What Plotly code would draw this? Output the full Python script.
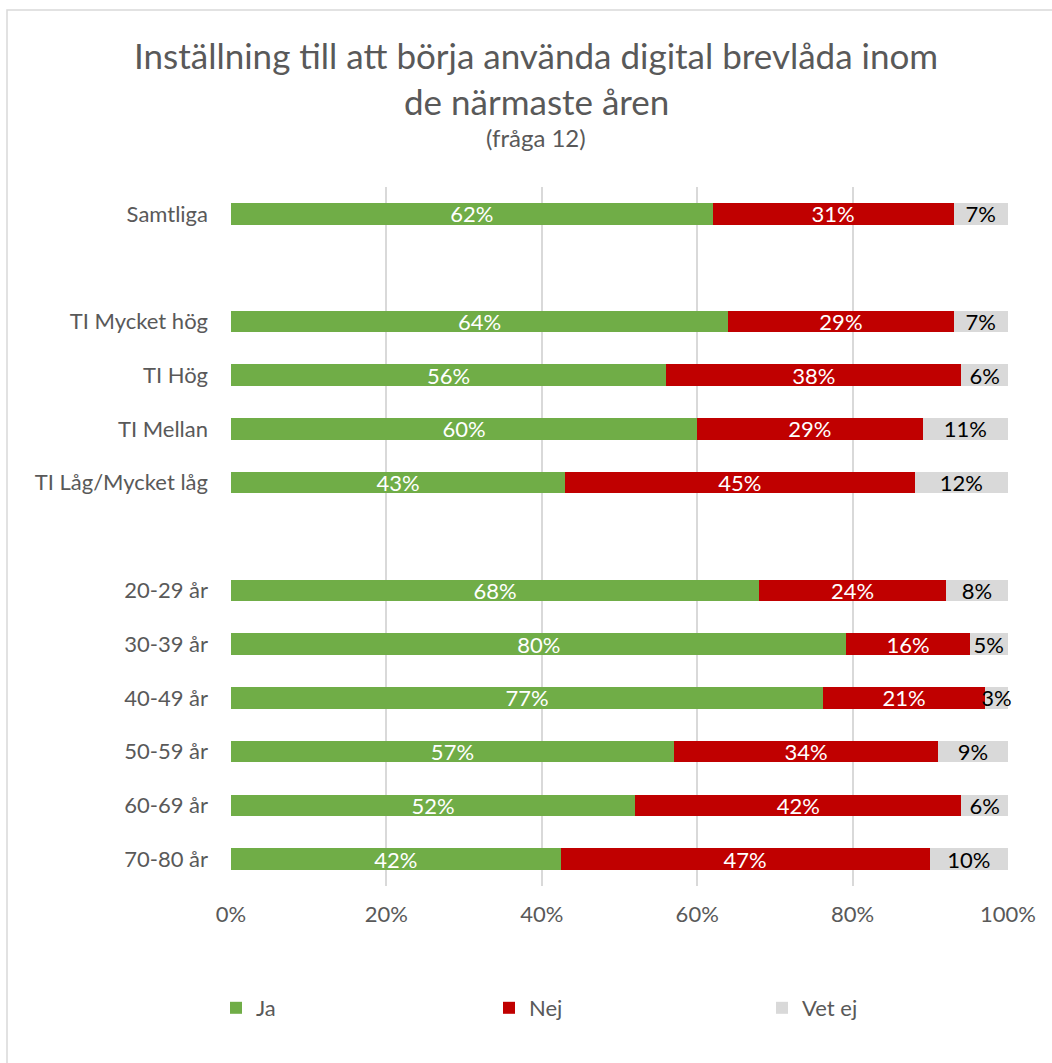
import plotly.graph_objects as go

# Survey groups (blank entries separate the three blocks)
categories = ["Samtliga", " ", "TI Mycket hög", "TI Hög", "TI Mellan", "TI Låg/Mycket låg", "  ",
              "20-29 år", "30-39 år", "40-49 år", "50-59 år", "60-69 år", "70-80 år"]
ja = [62, None, 64, 56, 60, 43, None, 68, 80, 77, 57, 52, 42]
nej = [31, None, 29, 38, 29, 45, None, 24, 16, 21, 34, 42, 47]
vet_ej = [7, None, 7, 6, 11, 12, None, 8, 5, 3, 9, 6, 10]

x_ticks = [0, 20, 40, 60, 80, 100]
x_tick_labels = ["0%", "20%", "40%", "60%", "80%", "100%"]

FONT = "Lato"
GREY_TEXT = "#595959"

series = [
    ("Ja", ja, "#70AD47", "white"),
    ("Nej", nej, "#C00000", "white"),
    ("Vet ej", vet_ej, "#D9D9D9", "black"),
]

fig = go.Figure()
for name, vals, color, tcolor in series:
    fig.add_trace(go.Bar(
        name=name,
        y=categories,
        x=vals,
        orientation="h",
        marker=dict(color=color, line=dict(width=0)),
        text=[f"{v}%" if v is not None else "" for v in vals],
        textposition="inside",
        insidetextanchor="middle",
        constraintext="none",
        textfont=dict(family=FONT, size=22, color=tcolor),
        cliponaxis=False,
        hoverinfo="skip",
    ))

W, H = 1052, 1063
L, R, T, B = 231, 44, 187, 177
ph = H - T - B
pw = W - L - R


def py(pix):
    return (H - B - pix) / ph


def px(pix):
    return (pix - L) / pw


title_x = px(536)
annotations = [
    dict(text="Inställning till att börja använda digital brevlåda inom", x=title_x, y=py(55),
         font=dict(family=FONT, size=35, color=GREY_TEXT)),
    dict(text="de närmaste åren", x=title_x, y=py(101),
         font=dict(family=FONT, size=35, color=GREY_TEXT)),
    dict(text="(fråga 12)", x=title_x, y=py(137),
         font=dict(family=FONT, size=24, color=GREY_TEXT)),
]
for a in annotations:
    a.update(xref="paper", yref="paper", xanchor="center", yanchor="middle", showarrow=False)

fig.update_layout(
    width=W, height=H,
    margin=dict(l=L, r=R, t=T, b=B, pad=0),
    barmode="stack",
    barnorm="percent",
    bargap=0.6,
    paper_bgcolor="white",
    plot_bgcolor="white",
    font=dict(family=FONT, color=GREY_TEXT),
    annotations=annotations,
    showlegend=True,
    legend=dict(
        orientation="h",
        x=px(216), xanchor="left",
        y=py(1008), yanchor="middle",
        entrywidth=228, entrywidthmode="pixels",
        font=dict(family=FONT, size=22, color=GREY_TEXT),
        traceorder="normal",
    ),
    xaxis=dict(
        range=[0, 100.001],
        tickvals=x_ticks,
        ticktext=x_tick_labels,
        showgrid=True,
        gridcolor="#D9D9D9",
        gridwidth=1.5,
        zeroline=False,
        showline=False,
        tickfont=dict(family=FONT, size=22, color=GREY_TEXT),
        ticklabelstandoff=13,
        fixedrange=True,
    ),
    yaxis=dict(
        categoryorder="array",
        categoryarray=categories,
        autorange="reversed",
        showgrid=False,
        zeroline=False,
        showline=False,
        tickfont=dict(family=FONT, size=22, color=GREY_TEXT),
        ticklabelstandoff=22,
        fixedrange=True,
    ),
    shapes=[dict(
        type="rect", xref="paper", yref="paper",
        x0=px(7), x1=px(1062), y0=py(1075), y1=py(10),
        line=dict(color="#D9D9D9", width=1.5),
        fillcolor="rgba(0,0,0,0)", layer="below",
    )],
)

fig.write_html("out.html", config={"displayModeBar": False})
